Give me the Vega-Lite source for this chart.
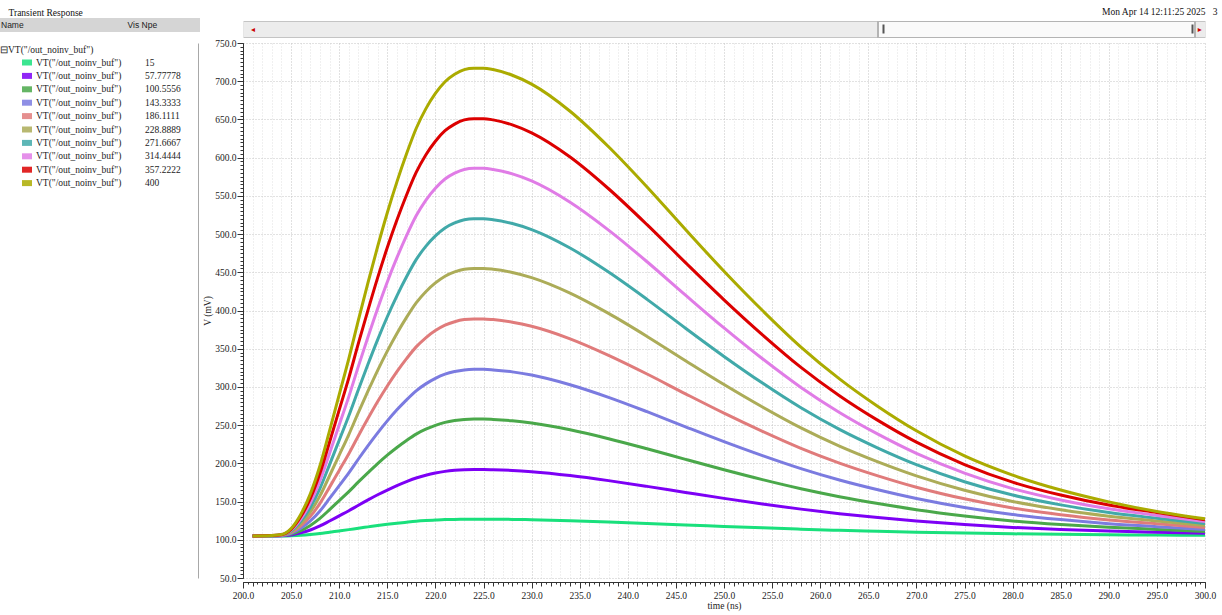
{
"$schema": "https://vega.github.io/schema/vega-lite/v6.json",
"width": 962, "height": 535,
"autosize": "none",
"padding": {"left": 243, "top": 43, "right": 17, "bottom": 37},
"background": "white",
"config": {"view": {"stroke": null}, "font": "Liberation Serif", "axis": {"labelFont": "Liberation Serif", "titleFont": "Liberation Serif"}, "legend": {"labelFont": "Liberation Serif", "titleFont": "Liberation Serif"}},
"datasets": {
"curves": [
{"t":201,"p":"15","v":105},{"t":203,"p":"15","v":105},{"t":204,"p":"15","v":105.1},{"t":205,"p":"15","v":105.4},{"t":206,"p":"15","v":106},{"t":207,"p":"15","v":107},{"t":208,"p":"15","v":108.3},{"t":209,"p":"15","v":110},{"t":210,"p":"15","v":111.6},{"t":211,"p":"15","v":113.3},{"t":212,"p":"15","v":115.2},{"t":213,"p":"15","v":116.9},{"t":214,"p":"15","v":118.6},{"t":215,"p":"15","v":120.2},{"t":216,"p":"15","v":121.7},{"t":217,"p":"15","v":123},{"t":218,"p":"15","v":124.2},{"t":219,"p":"15","v":125.1},{"t":220,"p":"15","v":125.8},{"t":221,"p":"15","v":126.4},{"t":222,"p":"15","v":126.7},{"t":223,"p":"15","v":126.9},{"t":224,"p":"15","v":127},{"t":225,"p":"15","v":127},{"t":226,"p":"15","v":126.9},{"t":228,"p":"15","v":126.7},{"t":230,"p":"15","v":126.3},{"t":234,"p":"15","v":125},{"t":238,"p":"15","v":123.3},{"t":242,"p":"15","v":121.4},{"t":246,"p":"15","v":119.4},{"t":250,"p":"15","v":117.5},{"t":254,"p":"15","v":115.6},{"t":258,"p":"15","v":113.9},{"t":262,"p":"15","v":112.4},{"t":266,"p":"15","v":111.1},{"t":270,"p":"15","v":109.9},{"t":275,"p":"15","v":108.8},{"t":280,"p":"15","v":107.8},{"t":285,"p":"15","v":107.2},{"t":290,"p":"15","v":106.6},{"t":295,"p":"15","v":106.2},{"t":300,"p":"15","v":105.9},
{"t":201,"p":"57.77778","v":105},{"t":203,"p":"57.77778","v":105.1},{"t":204,"p":"57.77778","v":105.3},{"t":205,"p":"57.77778","v":106.4},{"t":206,"p":"57.77778","v":109},{"t":207,"p":"57.77778","v":112.8},{"t":208,"p":"57.77778","v":118.1},{"t":209,"p":"57.77778","v":124.6},{"t":210,"p":"57.77778","v":131.3},{"t":211,"p":"57.77778","v":138},{"t":212,"p":"57.77778","v":145.2},{"t":213,"p":"57.77778","v":152.2},{"t":214,"p":"57.77778","v":158.9},{"t":215,"p":"57.77778","v":165.1},{"t":216,"p":"57.77778","v":170.9},{"t":217,"p":"57.77778","v":176.1},{"t":218,"p":"57.77778","v":180.8},{"t":219,"p":"57.77778","v":184.4},{"t":220,"p":"57.77778","v":187.3},{"t":221,"p":"57.77778","v":189.5},{"t":222,"p":"57.77778","v":190.9},{"t":223,"p":"57.77778","v":191.7},{"t":224,"p":"57.77778","v":192},{"t":225,"p":"57.77778","v":192},{"t":226,"p":"57.77778","v":191.7},{"t":228,"p":"57.77778","v":190.7},{"t":230,"p":"57.77778","v":189},{"t":234,"p":"57.77778","v":184},{"t":238,"p":"57.77778","v":177.4},{"t":242,"p":"57.77778","v":169.9},{"t":246,"p":"57.77778","v":162},{"t":250,"p":"57.77778","v":154.2},{"t":254,"p":"57.77778","v":146.9},{"t":258,"p":"57.77778","v":140.1},{"t":262,"p":"57.77778","v":134.2},{"t":266,"p":"57.77778","v":129.1},{"t":270,"p":"57.77778","v":124.6},{"t":275,"p":"57.77778","v":119.9},{"t":280,"p":"57.77778","v":116.2},{"t":285,"p":"57.77778","v":113.5},{"t":290,"p":"57.77778","v":111.4},{"t":295,"p":"57.77778","v":109.9},{"t":300,"p":"57.77778","v":108.4},
{"t":201,"p":"100.5556","v":105},{"t":203,"p":"100.5556","v":105.2},{"t":204,"p":"100.5556","v":105.5},{"t":205,"p":"100.5556","v":107.4},{"t":206,"p":"100.5556","v":112},{"t":207,"p":"100.5556","v":118.8},{"t":208,"p":"100.5556","v":128},{"t":209,"p":"100.5556","v":139.4},{"t":210,"p":"100.5556","v":151.2},{"t":211,"p":"100.5556","v":163},{"t":212,"p":"100.5556","v":175.7},{"t":213,"p":"100.5556","v":187.9},{"t":214,"p":"100.5556","v":199.7},{"t":215,"p":"100.5556","v":210.7},{"t":216,"p":"100.5556","v":220.8},{"t":217,"p":"100.5556","v":230},{"t":218,"p":"100.5556","v":238.3},{"t":219,"p":"100.5556","v":244.7},{"t":220,"p":"100.5556","v":249.7},{"t":221,"p":"100.5556","v":253.6},{"t":222,"p":"100.5556","v":256},{"t":223,"p":"100.5556","v":257.5},{"t":224,"p":"100.5556","v":258},{"t":225,"p":"100.5556","v":258},{"t":226,"p":"100.5556","v":257.5},{"t":228,"p":"100.5556","v":255.7},{"t":230,"p":"100.5556","v":252.8},{"t":234,"p":"100.5556","v":243.9},{"t":238,"p":"100.5556","v":232.3},{"t":242,"p":"100.5556","v":219.1},{"t":246,"p":"100.5556","v":205.2},{"t":250,"p":"100.5556","v":191.6},{"t":254,"p":"100.5556","v":178.7},{"t":258,"p":"100.5556","v":166.8},{"t":262,"p":"100.5556","v":156.4},{"t":266,"p":"100.5556","v":147.4},{"t":270,"p":"100.5556","v":139.4},{"t":275,"p":"100.5556","v":131.2},{"t":280,"p":"100.5556","v":124.7},{"t":285,"p":"100.5556","v":120},{"t":290,"p":"100.5556","v":116.3},{"t":295,"p":"100.5556","v":113.6},{"t":300,"p":"100.5556","v":111},
{"t":201,"p":"143.3333","v":105},{"t":203,"p":"143.3333","v":105.2},{"t":204,"p":"143.3333","v":105.7},{"t":205,"p":"143.3333","v":108.5},{"t":206,"p":"143.3333","v":115},{"t":207,"p":"143.3333","v":124.6},{"t":208,"p":"143.3333","v":137.7},{"t":209,"p":"143.3333","v":154.1},{"t":210,"p":"143.3333","v":170.8},{"t":211,"p":"143.3333","v":187.6},{"t":212,"p":"143.3333","v":205.7},{"t":213,"p":"143.3333","v":223.2},{"t":214,"p":"143.3333","v":239.9},{"t":215,"p":"143.3333","v":255.6},{"t":216,"p":"143.3333","v":270},{"t":217,"p":"143.3333","v":283.1},{"t":218,"p":"143.3333","v":294.9},{"t":219,"p":"143.3333","v":304},{"t":220,"p":"143.3333","v":311.2},{"t":221,"p":"143.3333","v":316.7},{"t":222,"p":"143.3333","v":320.2},{"t":223,"p":"143.3333","v":322.3},{"t":224,"p":"143.3333","v":323},{"t":225,"p":"143.3333","v":323},{"t":226,"p":"143.3333","v":322.3},{"t":228,"p":"143.3333","v":319.7},{"t":230,"p":"143.3333","v":315.6},{"t":234,"p":"143.3333","v":302.9},{"t":238,"p":"143.3333","v":286.4},{"t":242,"p":"143.3333","v":267.6},{"t":246,"p":"143.3333","v":247.8},{"t":250,"p":"143.3333","v":228.4},{"t":254,"p":"143.3333","v":210.1},{"t":258,"p":"143.3333","v":193.1},{"t":262,"p":"143.3333","v":178.2},{"t":266,"p":"143.3333","v":165.4},{"t":270,"p":"143.3333","v":154},{"t":275,"p":"143.3333","v":142.3},{"t":280,"p":"143.3333","v":133.1},{"t":285,"p":"143.3333","v":126.4},{"t":290,"p":"143.3333","v":121.1},{"t":295,"p":"143.3333","v":117.2},{"t":300,"p":"143.3333","v":113.5},
{"t":201,"p":"186.1111","v":105},{"t":203,"p":"186.1111","v":105.3},{"t":204,"p":"186.1111","v":105.9},{"t":205,"p":"186.1111","v":109.5},{"t":206,"p":"186.1111","v":118.1},{"t":207,"p":"186.1111","v":130.6},{"t":208,"p":"186.1111","v":147.6},{"t":209,"p":"186.1111","v":168.9},{"t":210,"p":"186.1111","v":190.8},{"t":211,"p":"186.1111","v":212.6},{"t":212,"p":"186.1111","v":236.2},{"t":213,"p":"186.1111","v":258.9},{"t":214,"p":"186.1111","v":280.8},{"t":215,"p":"186.1111","v":301.2},{"t":216,"p":"186.1111","v":320},{"t":217,"p":"186.1111","v":337},{"t":218,"p":"186.1111","v":352.4},{"t":219,"p":"186.1111","v":364.3},{"t":220,"p":"186.1111","v":373.7},{"t":221,"p":"186.1111","v":380.8},{"t":222,"p":"186.1111","v":385.3},{"t":223,"p":"186.1111","v":388.1},{"t":224,"p":"186.1111","v":389},{"t":225,"p":"186.1111","v":389},{"t":226,"p":"186.1111","v":388.1},{"t":228,"p":"186.1111","v":384.7},{"t":230,"p":"186.1111","v":379.3},{"t":234,"p":"186.1111","v":362.9},{"t":238,"p":"186.1111","v":341.3},{"t":242,"p":"186.1111","v":316.9},{"t":246,"p":"186.1111","v":291},{"t":250,"p":"186.1111","v":265.7},{"t":254,"p":"186.1111","v":241.9},{"t":258,"p":"186.1111","v":219.7},{"t":262,"p":"186.1111","v":200.4},{"t":266,"p":"186.1111","v":183.7},{"t":270,"p":"186.1111","v":168.8},{"t":275,"p":"186.1111","v":153.6},{"t":280,"p":"186.1111","v":141.6},{"t":285,"p":"186.1111","v":132.8},{"t":290,"p":"186.1111","v":126},{"t":295,"p":"186.1111","v":120.9},{"t":300,"p":"186.1111","v":116.1},
{"t":201,"p":"228.8889","v":105},{"t":203,"p":"228.8889","v":105.4},{"t":204,"p":"228.8889","v":106.1},{"t":205,"p":"228.8889","v":110.6},{"t":206,"p":"228.8889","v":121.1},{"t":207,"p":"228.8889","v":136.5},{"t":208,"p":"228.8889","v":157.5},{"t":209,"p":"228.8889","v":183.8},{"t":210,"p":"228.8889","v":210.7},{"t":211,"p":"228.8889","v":237.7},{"t":212,"p":"228.8889","v":266.7},{"t":213,"p":"228.8889","v":294.7},{"t":214,"p":"228.8889","v":321.7},{"t":215,"p":"228.8889","v":346.9},{"t":216,"p":"228.8889","v":370},{"t":217,"p":"228.8889","v":391},{"t":218,"p":"228.8889","v":409.9},{"t":219,"p":"228.8889","v":424.6},{"t":220,"p":"228.8889","v":436.1},{"t":221,"p":"228.8889","v":444.9},{"t":222,"p":"228.8889","v":450.5},{"t":223,"p":"228.8889","v":454},{"t":224,"p":"228.8889","v":455},{"t":225,"p":"228.8889","v":455},{"t":226,"p":"228.8889","v":454},{"t":228,"p":"228.8889","v":449.8},{"t":230,"p":"228.8889","v":443.1},{"t":234,"p":"228.8889","v":422.8},{"t":238,"p":"228.8889","v":396.2},{"t":242,"p":"228.8889","v":366.1},{"t":246,"p":"228.8889","v":334.3},{"t":250,"p":"228.8889","v":303.1},{"t":254,"p":"228.8889","v":273.7},{"t":258,"p":"228.8889","v":246.4},{"t":262,"p":"228.8889","v":222.6},{"t":266,"p":"228.8889","v":202},{"t":270,"p":"228.8889","v":183.7},{"t":275,"p":"228.8889","v":164.9},{"t":280,"p":"228.8889","v":150.2},{"t":285,"p":"228.8889","v":139.3},{"t":290,"p":"228.8889","v":130.9},{"t":295,"p":"228.8889","v":124.6},{"t":300,"p":"228.8889","v":118.7},
{"t":201,"p":"271.6667","v":105},{"t":203,"p":"271.6667","v":105.4},{"t":204,"p":"271.6667","v":106.2},{"t":205,"p":"271.6667","v":111.6},{"t":206,"p":"271.6667","v":124.1},{"t":207,"p":"271.6667","v":142.4},{"t":208,"p":"271.6667","v":167.3},{"t":209,"p":"271.6667","v":198.4},{"t":210,"p":"271.6667","v":230.3},{"t":211,"p":"271.6667","v":262.3},{"t":212,"p":"271.6667","v":296.7},{"t":213,"p":"271.6667","v":329.9},{"t":214,"p":"271.6667","v":361.9},{"t":215,"p":"271.6667","v":391.8},{"t":216,"p":"271.6667","v":419.2},{"t":217,"p":"271.6667","v":444.1},{"t":218,"p":"271.6667","v":466.5},{"t":219,"p":"271.6667","v":483.9},{"t":220,"p":"271.6667","v":497.6},{"t":221,"p":"271.6667","v":508},{"t":222,"p":"271.6667","v":514.6},{"t":223,"p":"271.6667","v":518.8},{"t":224,"p":"271.6667","v":520},{"t":225,"p":"271.6667","v":520},{"t":226,"p":"271.6667","v":518.8},{"t":228,"p":"271.6667","v":513.8},{"t":230,"p":"271.6667","v":505.9},{"t":234,"p":"271.6667","v":481.8},{"t":238,"p":"271.6667","v":450.3},{"t":242,"p":"271.6667","v":414.6},{"t":246,"p":"271.6667","v":376.8},{"t":250,"p":"271.6667","v":339.9},{"t":254,"p":"271.6667","v":305},{"t":258,"p":"271.6667","v":272.7},{"t":262,"p":"271.6667","v":244.4},{"t":266,"p":"271.6667","v":220},{"t":270,"p":"271.6667","v":198.3},{"t":275,"p":"271.6667","v":176},{"t":280,"p":"271.6667","v":158.5},{"t":285,"p":"271.6667","v":145.7},{"t":290,"p":"271.6667","v":135.7},{"t":295,"p":"271.6667","v":128.2},{"t":300,"p":"271.6667","v":121.2},
{"t":201,"p":"314.4444","v":105},{"t":203,"p":"314.4444","v":105.5},{"t":204,"p":"314.4444","v":106.4},{"t":205,"p":"314.4444","v":112.7},{"t":206,"p":"314.4444","v":127.1},{"t":207,"p":"314.4444","v":148.3},{"t":208,"p":"314.4444","v":177.2},{"t":209,"p":"314.4444","v":213.2},{"t":210,"p":"314.4444","v":250.3},{"t":211,"p":"314.4444","v":287.3},{"t":212,"p":"314.4444","v":327.2},{"t":213,"p":"314.4444","v":365.7},{"t":214,"p":"314.4444","v":402.7},{"t":215,"p":"314.4444","v":437.4},{"t":216,"p":"314.4444","v":469.1},{"t":217,"p":"314.4444","v":498},{"t":218,"p":"314.4444","v":524},{"t":219,"p":"314.4444","v":544.2},{"t":220,"p":"314.4444","v":560},{"t":221,"p":"314.4444","v":572.1},{"t":222,"p":"314.4444","v":579.7},{"t":223,"p":"314.4444","v":584.6},{"t":224,"p":"314.4444","v":586},{"t":225,"p":"314.4444","v":586},{"t":226,"p":"314.4444","v":584.6},{"t":228,"p":"314.4444","v":578.8},{"t":230,"p":"314.4444","v":569.6},{"t":234,"p":"314.4444","v":541.7},{"t":238,"p":"314.4444","v":505.2},{"t":242,"p":"314.4444","v":463.8},{"t":246,"p":"314.4444","v":420.1},{"t":250,"p":"314.4444","v":377.2},{"t":254,"p":"314.4444","v":336.8},{"t":258,"p":"314.4444","v":299.3},{"t":262,"p":"314.4444","v":266.6},{"t":266,"p":"314.4444","v":238.2},{"t":270,"p":"314.4444","v":213.1},{"t":275,"p":"314.4444","v":187.3},{"t":280,"p":"314.4444","v":167},{"t":285,"p":"314.4444","v":152.1},{"t":290,"p":"314.4444","v":140.6},{"t":295,"p":"314.4444","v":131.9},{"t":300,"p":"314.4444","v":123.8},
{"t":201,"p":"357.2222","v":105},{"t":203,"p":"357.2222","v":105.5},{"t":204,"p":"357.2222","v":106.6},{"t":205,"p":"357.2222","v":113.7},{"t":206,"p":"357.2222","v":130.1},{"t":207,"p":"357.2222","v":154.1},{"t":208,"p":"357.2222","v":186.9},{"t":209,"p":"357.2222","v":227.9},{"t":210,"p":"357.2222","v":269.9},{"t":211,"p":"357.2222","v":311.9},{"t":212,"p":"357.2222","v":357.3},{"t":213,"p":"357.2222","v":400.9},{"t":214,"p":"357.2222","v":443},{"t":215,"p":"357.2222","v":482.3},{"t":216,"p":"357.2222","v":518.3},{"t":217,"p":"357.2222","v":551.1},{"t":218,"p":"357.2222","v":580.6},{"t":219,"p":"357.2222","v":603.5},{"t":220,"p":"357.2222","v":621.5},{"t":221,"p":"357.2222","v":635.2},{"t":222,"p":"357.2222","v":643.9},{"t":223,"p":"357.2222","v":649.4},{"t":224,"p":"357.2222","v":651},{"t":225,"p":"357.2222","v":651},{"t":226,"p":"357.2222","v":649.4},{"t":228,"p":"357.2222","v":642.8},{"t":230,"p":"357.2222","v":632.4},{"t":234,"p":"357.2222","v":600.8},{"t":238,"p":"357.2222","v":559.3},{"t":242,"p":"357.2222","v":512.3},{"t":246,"p":"357.2222","v":462.6},{"t":250,"p":"357.2222","v":414},{"t":254,"p":"357.2222","v":368.2},{"t":258,"p":"357.2222","v":325.6},{"t":262,"p":"357.2222","v":288.5},{"t":266,"p":"357.2222","v":256.2},{"t":270,"p":"357.2222","v":227.7},{"t":275,"p":"357.2222","v":198.4},{"t":280,"p":"357.2222","v":175.4},{"t":285,"p":"357.2222","v":158.5},{"t":290,"p":"357.2222","v":145.4},{"t":295,"p":"357.2222","v":135.6},{"t":300,"p":"357.2222","v":126.3},
{"t":201,"p":"400","v":105},{"t":203,"p":"400","v":105.6},{"t":204,"p":"400","v":106.8},{"t":205,"p":"400","v":114.8},{"t":206,"p":"400","v":133.2},{"t":207,"p":"400","v":160.1},{"t":208,"p":"400","v":196.8},{"t":209,"p":"400","v":242.7},{"t":210,"p":"400","v":289.8},{"t":211,"p":"400","v":337},{"t":212,"p":"400","v":387.7},{"t":213,"p":"400","v":436.7},{"t":214,"p":"400","v":483.8},{"t":215,"p":"400","v":527.9},{"t":216,"p":"400","v":568.3},{"t":217,"p":"400","v":605},{"t":218,"p":"400","v":638.1},{"t":219,"p":"400","v":663.8},{"t":220,"p":"400","v":684},{"t":221,"p":"400","v":699.3},{"t":222,"p":"400","v":709},{"t":223,"p":"400","v":715.2},{"t":224,"p":"400","v":717},{"t":225,"p":"400","v":717},{"t":226,"p":"400","v":715.2},{"t":228,"p":"400","v":707.8},{"t":230,"p":"400","v":696.2},{"t":234,"p":"400","v":660.7},{"t":238,"p":"400","v":614.2},{"t":242,"p":"400","v":561.6},{"t":246,"p":"400","v":505.9},{"t":250,"p":"400","v":451.4},{"t":254,"p":"400","v":400},{"t":258,"p":"400","v":352.2},{"t":262,"p":"400","v":310.6},{"t":266,"p":"400","v":274.5},{"t":270,"p":"400","v":242.6},{"t":275,"p":"400","v":209.7},{"t":280,"p":"400","v":184.6},{"t":285,"p":"400","v":165.1},{"t":290,"p":"400","v":149.6},{"t":295,"p":"400","v":137.1},{"t":300,"p":"400","v":127.5}
],
"span": [{"t":200,"v":50},{"t":300,"v":750}],
"header": [{"hdr": "Name\u00a0\u00a0\u00a0\u00a0\u00a0\u00a0\u00a0\u00a0\u00a0\u00a0\u00a0\u00a0\u00a0\u00a0\u00a0\u00a0\u00a0\u00a0\u00a0\u00a0\u00a0\u00a0\u00a0\u00a0\u00a0\u00a0\u00a0\u00a0\u00a0\u00a0\u00a0\u00a0\u00a0\u00a0\u00a0\u00a0\u00a0\u00a0\u00a0\u00a0\u00a0\u00a0\u00a0\u00a0Vis\u00a0Npe\u00a0\u00a0\u00a0\u00a0\u00a0\u00a0\u00a0\u00a0\u00a0\u00a0\u00a0\u00a0\u00a0\u00a0\u00a0\u00a0\u00a0\u200b"}]
},
"layer": [
{
"data": {"name": "curves"},
"mark": {"type": "line", "strokeWidth": 3, "interpolate": "monotone"},
"encoding": {
"x": {"field": "t", "type": "quantitative", "scale": {"domain": [200, 300], "nice": false, "zero": false},
 "axis": {"orient": "bottom", "values": [200,205,210,215,220,225,230,235,240,245,250,255,260,265,270,275,280,285,290,295,300], "format": ".1f", "offset": 4, "tickSize": 6, "tickColor": "#333", "domainColor": "#333", "labelFont": "Liberation Serif", "labelFontSize": 9.5, "labelColor": "#222", "labelPadding": 2, "labelFlush": false, "labelOverlap": false, "grid": true, "gridColor": "#c4c4c4", "gridDash": [1, 2], "title": "time (ns)", "titleFont": "Liberation Serif", "titleFontSize": 9.5, "titleFontWeight": "normal", "titleColor": "#222", "titlePadding": 1}},
"y": {"field": "v", "type": "quantitative", "scale": {"domain": [50, 750], "nice": false, "zero": false},
 "axis": {"orient": "left", "values": [50,100,150,200,250,300,350,400,450,500,550,600,650,700,750], "format": ".1f", "tickSize": 6, "tickColor": "#333", "domainColor": "#333", "labelFont": "Liberation Serif", "labelFontSize": 9.5, "labelColor": "#222", "labelPadding": 1, "labelOverlap": false, "grid": true, "gridColor": "#c4c4c4", "gridDash": [1, 2], "title": "V (mV)", "titleFont": "Liberation Serif", "titleFontSize": 9.5, "titleFontWeight": "normal", "titleColor": "#222", "titlePadding": 2}},
"color": {"field": "p", "type": "nominal",
 "scale": {"domain": ["15","57.77778","100.5556","143.3333","186.1111","228.8889","271.6667","314.4444","357.2222","400"],
  "range": ["#19e07c","#7d00f5","#4aa84a","#7b7be0","#e07b7b","#acac58","#41a9a9","#e07ce6","#dc0000","#abab00"]},
 "legend": {"orient": "none", "legendX": -243, "legendY": -23,
  "title": ["\u00a0", "\u229fVT(\"/out_noinv_buf\")"],
  "titleFont": "Liberation Serif", "titleFontSize": 9.5, "titleFontWeight": "normal", "titleColor": "#222", "titleLineHeight": 24.5, "titlePadding": 3.5,
  "symbolType": "M-1,-0.6H1V0.6H-1Z", "symbolSize": 100, "symbolStrokeWidth": 0, "symbolOffset": 22, "symbolOpacity": 0.85,
  "encode": {"symbols": {"update": {"fill": {"scale": "color", "field": "value"}, "strokeWidth": {"value": 0}}}},
  "labelExpr": "'VT(\"/out_noinv_buf\")\u00a0\u00a0\u00a0\u00a0\u00a0\u00a0\u00a0\u00a0\u00a0\u00a0' + datum.label",
  "labelFont": "Liberation Serif", "labelFontSize": 9.5, "labelColor": "#222", "labelOffset": 4, "labelLimit": 300,
  "rowPadding": 3.4}}
}
},
{
"data": {"name": "header"},
"mark": {"type": "point", "opacity": 0},
"encoding": {
 "shape": {"field": "hdr", "type": "nominal",
  "legend": {"orient": "none", "legendX": -253, "legendY": -25, "title": null, "fillColor": "#d5d5d5", "padding": 2.5,
   "symbolSize": 0, "symbolOpacity": 0, "symbolStrokeWidth": 0, "labelOffset": 0, "labelLimit": 500,
   "labelFont": "Liberation Sans", "labelFontSize": 8.5, "labelColor": "#222"}}}
},
{
"data": {"name": "span"},
"mark": {"type": "rule", "opacity": 0},
"encoding": {"x": {"field": "t", "type": "quantitative",
 "axis": {"orient": "bottom", "tickCount": 100, "offset": 4, "tickSize": 4, "tickColor": "#333", "labels": false, "domain": false, "grid": true, "gridColor": "#e0e0e0", "gridDash": [1, 2], "title": null}}}
},
{
"data": {"name": "span"},
"mark": {"type": "rule", "opacity": 0},
"encoding": {"x": {"field": "t", "type": "quantitative",
 "axis": {"orient": "bottom", "tickCount": 200, "offset": 4, "tickSize": 2, "tickColor": "#333", "labels": false, "domain": false, "grid": false, "title": null}}}
},
{
"data": {"name": "span"},
"mark": {"type": "rule", "opacity": 0},
"encoding": {"y": {"field": "v", "type": "quantitative",
 "axis": {"orient": "left", "tickCount": 140, "tickSize": 3, "tickColor": "#333", "labels": false, "domain": false, "grid": false,
  "title": "Transient Response", "titleFont": "Liberation Serif", "titleX": -235, "titleY": -31, "titleAngle": 0, "titleAlign": "left", "titleBaseline": "middle", "titleFontSize": 9.5, "titleFontWeight": "normal", "titleColor": "#111"}}}
},
{
"data": {"name": "span"},
"mark": {"type": "rule", "opacity": 0},
"encoding": {"y": {"field": "v", "type": "quantitative",
 "axis": {"orient": "left", "offset": 45, "domain": true, "domainColor": "#a8a8a8", "ticks": false, "labels": false, "grid": false, "title": null}}}
},
{
"data": {"name": "span"},
"mark": {"type": "rule", "opacity": 0},
"encoding": {"x": {"field": "t", "type": "quantitative",
 "axis": {"orient": "top", "offset": 14, "domain": true, "domainColor": "#c4c4c4", "domainWidth": 17, "ticks": false, "labels": false, "grid": false,
  "title": "Mon Apr 14 12:11:25 2025\u00a0\u00a0\u00a03", "titleFont": "Liberation Serif", "titleX": 974, "titleY": -18, "titleAlign": "right", "titleBaseline": "middle", "titleFontSize": 9.5, "titleFontWeight": "normal", "titleColor": "#111"}}}
},
{
"data": {"name": "span"},
"mark": {"type": "rule", "opacity": 0},
"encoding": {"x": {"field": "t", "type": "quantitative",
 "axis": {"orient": "top", "offset": 14, "domain": true, "domainColor": "#ececec", "domainWidth": 15, "ticks": false, "labels": false, "grid": false, "title": null}}}
},
{
"data": {"name": "span"},
"mark": {"type": "rule", "opacity": 0},
"encoding": {"x": {"field": "t", "type": "quantitative",
 "axis": {"orient": "top", "offset": 5.5, "domain": false, "labels": false, "grid": false, "title": null,
  "values": [282.48], "ticks": true, "tickSize": 17, "tickWidth": 319, "tickColor": "#b4b4b4", "tickCap": "butt"}}}
},
{
"data": {"name": "span"},
"mark": {"type": "rule", "opacity": 0},
"encoding": {"x": {"field": "t", "type": "quantitative",
 "axis": {"orient": "top", "offset": 6.5, "domain": false, "labels": false, "grid": false, "title": null,
  "values": [282.48], "ticks": true, "tickSize": 15, "tickWidth": 315, "tickColor": "#fafafa", "tickCap": "butt"}}}
},
{
"data": {"name": "span"},
"mark": {"type": "rule", "opacity": 0},
"encoding": {"x": {"field": "t", "type": "quantitative",
 "axis": {"orient": "top", "offset": 10, "domain": false, "labels": false, "grid": false, "title": null,
  "values": [266.55, 298.65], "ticks": true, "tickSize": 9, "tickWidth": 2, "tickColor": "#555555", "tickCap": "butt"}}}
},
{
"data": {"name": "span"},
"mark": {"type": "rule", "opacity": 0},
"encoding": {"x": {"field": "t", "type": "quantitative",
 "axis": {"orient": "top", "offset": 14, "domain": false, "ticks": false, "grid": false,
  "values": [201, 299.4], "labelExpr": "datum.value < 250 ? '\u25c2' : '\u25b8'", "labelFont": "DejaVu Sans", "labelColor": "#cc0000", "labelFontSize": 8, "labelPadding": 0, "labelBaseline": "middle", "labelFlush": false, "labelBound": false, "labelOverlap": false, "title": null}}}
}
],
"resolve": {"axis": {"x": "independent", "y": "independent"}}
}
